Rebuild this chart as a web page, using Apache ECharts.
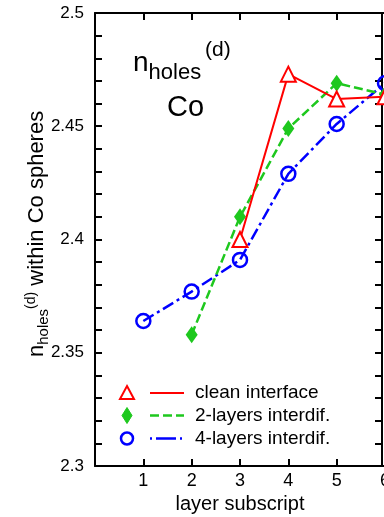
<!DOCTYPE html>
<html>
<head>
<meta charset="utf-8">
<style>
  html, body { margin: 0; padding: 0; background: #fff; }
  #chart { width: 384px; height: 517px; }
</style>
<script src="https://cdn.jsdelivr.net/npm/echarts@6/dist/echarts.min.js"></script>
</head>
<body>
<div id="chart"></div>
<script>
// Layer positions and the Co d-hole counts for each interface model
const cleanLayers = [3, 4, 5, 6];
const cleanHoles = [2.400, 2.473, 2.462, 2.463];

const twoLayers = [2, 3, 4, 5, 6];
const twoHoles = [2.358, 2.410, 2.449, 2.469, 2.464];

const fourLayers = [1, 2, 3, 4, 5, 6];
const fourHoles = [2.364, 2.377, 2.391, 2.429, 2.451, 2.469];

const seriesNames = ['clean interface', '2-layers interdif.', '4-layers interdif.'];
const xTicks = [0, 1, 2, 3, 4, 5, 6];

const FONT = '"Liberation Sans", Arial, Helvetica, sans-serif';
const RED = '#ff0000', GREEN = '#1ec81e', BLUE = '#0000ff';

const chart = echarts.init(document.getElementById('chart'), null, { renderer: 'canvas' });

// text width helper, used to chain sub/superscript pieces
const measureCtx = document.createElement('canvas').getContext('2d');
function textWidth(str, fs) {
  measureCtx.font = fs + 'px ' + FONT;
  return measureCtx.measureText(str).width;
}
// a text element placed by its left edge and baseline
function baseText(x, baseline, str, fs) {
  return {
    type: 'text', x: x, y: baseline - 0.35 * fs, silent: true,
    style: { text: str, fontSize: fs, fontFamily: FONT, fill: '#000', align: 'left', verticalAlign: 'middle' }
  };
}
// run of pieces [text, fontSize, baselineShift] laid out left to right
function richRun(x0, baseline, pieces) {
  const out = [];
  let x = x0;
  pieces.forEach(p => {
    out.push(baseText(x, baseline + p[2], p[0], p[1]));
    x += textWidth(p[0], p[1]);
  });
  return out;
}

const pair = (xs, ys) => xs.map((x, i) => [x, ys[i]]);

const axisLineStyle = { color: '#000', width: 2 };
function xAxisDef(pos, withLabels) {
  return {
    type: 'value', position: pos, min: xTicks[0], max: xTicks[xTicks.length - 1], interval: 1,
    axisLine: { onZero: false, lineStyle: axisLineStyle },
    axisTick: { inside: true, length: 7, lineStyle: axisLineStyle },
    axisLabel: withLabels ? {
      color: '#000', fontSize: 18, fontFamily: FONT, margin: 6,
      formatter: v => (v === 0 ? '' : String(v))
    } : { show: false },
    splitLine: { show: false },
    name: withLabels ? 'layer subscript' : '',
    nameLocation: 'middle', nameGap: 24,
    nameTextStyle: { color: '#000', fontSize: 20, fontFamily: FONT }
  };
}
function yAxisDef(pos, withLabels, offset) {
  return {
    type: 'value', position: pos, offset: offset, min: 2.3, max: 2.5, interval: 0.05,
    axisLine: { onZero: false, lineStyle: axisLineStyle },
    axisTick: { inside: true, length: 7, lineStyle: axisLineStyle },
    minorTick: { show: true, splitNumber: 5, length: 7, lineStyle: axisLineStyle },
    axisLabel: withLabels ? { color: '#000', fontSize: 17, fontFamily: FONT, margin: 11 } : { show: false },
    splitLine: { show: false }
  };
}

// legend drawn as symbol + line sample + label, stacked in the lower left
const legendRows = [393, 415.5, 438.5];
const symX = 127, lineX0 = 150, lineX1 = 184, labelX = 195;
const legendGraphics = [
  { type: 'polygon', silent: true, shape: { points: [[symX, legendRows[0] - 7], [symX + 7, legendRows[0] + 6], [symX - 7, legendRows[0] + 6]] },
    style: { fill: '#fff', stroke: RED, lineWidth: 2 } },
  { type: 'polygon', silent: true, shape: { points: [[symX, legendRows[1] - 8], [symX + 5, legendRows[1]], [symX, legendRows[1] + 8], [symX - 5, legendRows[1]]] },
    style: { fill: GREEN, stroke: GREEN, lineWidth: 1 } },
  { type: 'circle', silent: true, shape: { cx: symX, cy: legendRows[2], r: 6 },
    style: { fill: 'none', stroke: BLUE, lineWidth: 2.5 } },
  { type: 'line', silent: true, shape: { x1: lineX0, y1: legendRows[0], x2: lineX1, y2: legendRows[0] },
    style: { stroke: RED, lineWidth: 2 } },
  { type: 'line', silent: true, shape: { x1: lineX0, y1: legendRows[1], x2: lineX1, y2: legendRows[1] },
    style: { stroke: GREEN, lineWidth: 2.5, lineDash: [9, 4] } },
  { type: 'line', silent: true, shape: { x1: lineX0, y1: legendRows[2], x2: lineX1, y2: legendRows[2] },
    style: { stroke: BLUE, lineWidth: 2.5, lineDash: [2, 4, 20, 4] } }
];
seriesNames.forEach((name, i) => {
  legendGraphics.push({
    type: 'text', x: labelX, y: legendRows[i], silent: true,
    style: { text: name, fontSize: 19, fontFamily: FONT, fill: '#000', align: 'left', verticalAlign: 'middle' }
  });
});

// in-plot annotation: n_holes^(d) / Co
const annotation = richRun(133, 73, [['n', 28, 0], ['holes', 22, 8]])
  .concat([baseText(205, 58, '(d)', 21), baseText(167, 118, 'Co', 29)]);

// rotated y-axis title: n_holes^(d) within Co spheres
const yTitle = {
  type: 'group', x: 45, y: 357, rotation: Math.PI / 2, silent: true,
  children: richRun(0, 0, [['n', 22, 0], ['holes', 15, 4], ['(d)', 14, -9], [' within Co spheres', 22, 0]])
};

chart.setOption({
  animation: false,
  backgroundColor: '#fff',
  // the x range runs slightly past the right edge of the canvas; keep the grid where it is
  grid: { left: 95, right: -1, top: 13, bottom: 51, containLabel: false, outerBoundsMode: 'none' },
  xAxis: [xAxisDef('bottom', true), xAxisDef('top', false)],
  yAxis: [yAxisDef('left', true, 0), yAxisDef('right', false, -3)],
  series: [
    {
      name: seriesNames[2], type: 'line', data: pair(fourLayers, fourHoles), z: 2,
      symbol: 'circle', symbolSize: 14,
      itemStyle: { color: 'rgba(0,0,0,0)', borderColor: BLUE, borderWidth: 2.5 },
      lineStyle: { color: BLUE, width: 2.5, type: [12, 4, 3, 4] }
    },
    {
      name: seriesNames[1], type: 'line', data: pair(twoLayers, twoHoles), z: 3,
      symbol: 'diamond', symbolSize: [12, 17],
      itemStyle: { color: GREEN, borderColor: GREEN, borderWidth: 0 },
      lineStyle: { color: GREEN, width: 2.5, type: [9, 4] }
    },
    {
      name: seriesNames[0], type: 'line', data: pair(cleanLayers, cleanHoles), z: 4,
      symbol: 'triangle', symbolSize: 15,
      itemStyle: { color: '#fff', borderColor: RED, borderWidth: 2 },
      lineStyle: { color: RED, width: 2, type: 'solid' }
    }
  ],
  graphic: legendGraphics.concat(annotation, [yTitle])
});
</script>
</body>
</html>
